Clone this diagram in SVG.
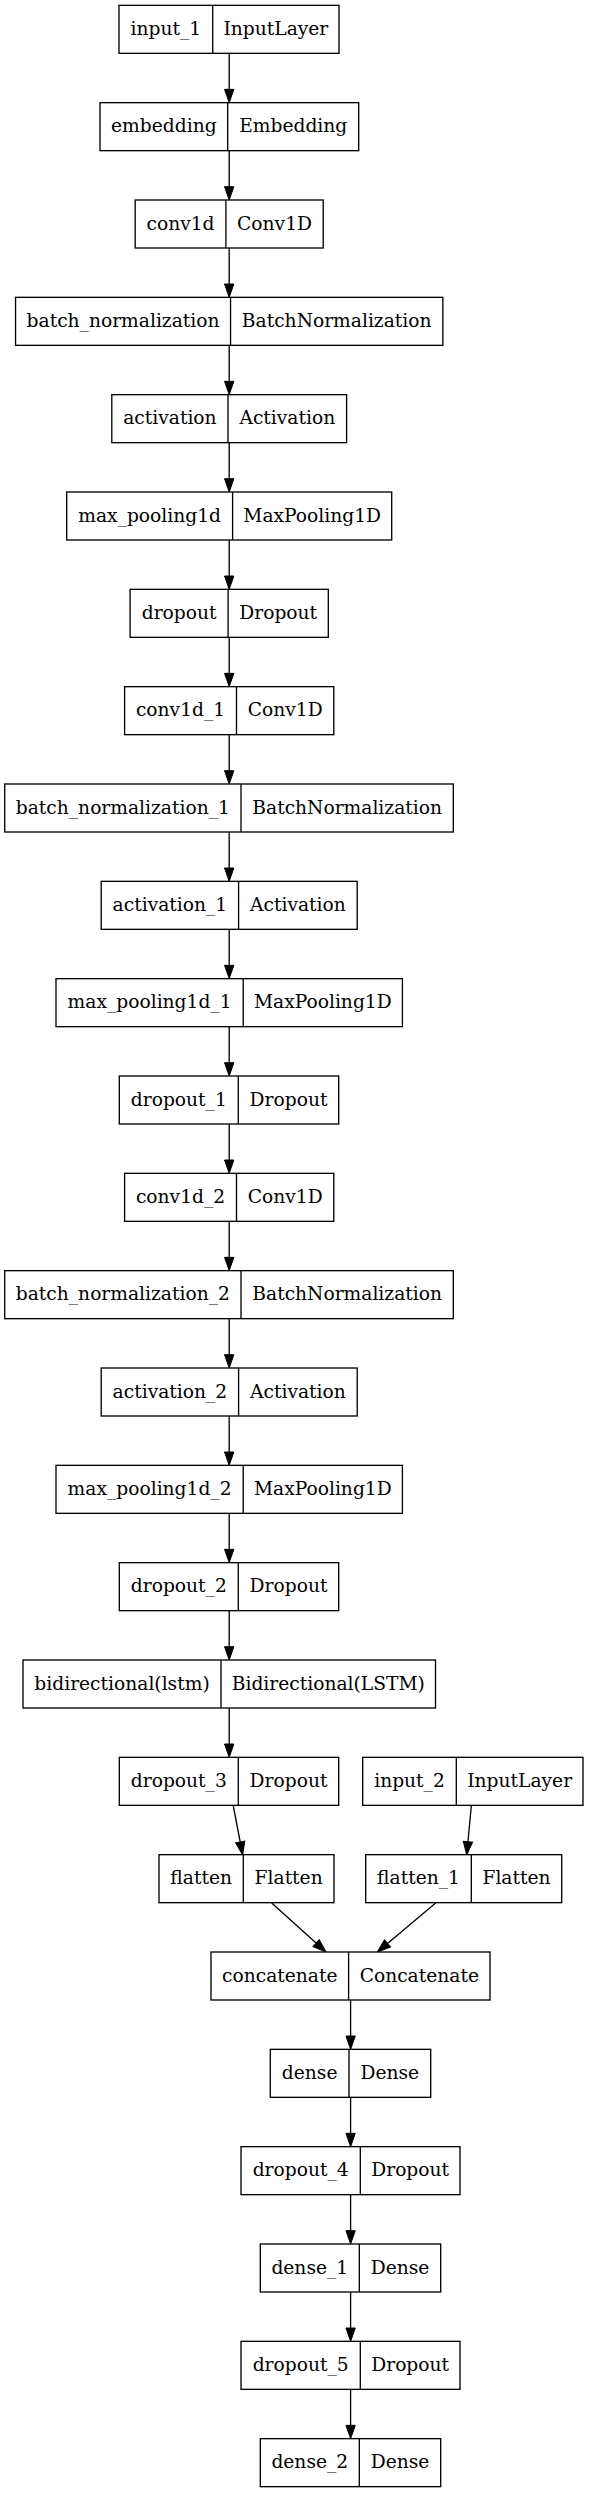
<svg xmlns="http://www.w3.org/2000/svg" width="589" height="2493" viewBox="0 0 589 2493">
<style>
.b{fill:#fff;stroke:#000;stroke-width:1.33}
.d{stroke:#000;stroke-width:1.33}
text{font-family:"DejaVu Serif","Liberation Serif",serif;font-size:18.67px;text-anchor:middle;fill:#000}
.e{fill:none;stroke:#000;stroke-width:1.33;marker-end:url(#ah)}
</style>
<defs>
<marker id="ah" markerUnits="userSpaceOnUse" markerWidth="14" markerHeight="10" refX="0" refY="4.67" orient="auto" overflow="visible">
<path d="M0,0 L13.33,4.67 L0,9.33 Z" fill="#000" stroke="#000" stroke-width="1"/>
</marker>
</defs>
<rect width="589" height="2493" fill="#fff"/>
<g id="edges">
<path class="e" d="M229.2,53.33 V89.33"/>
<path class="e" d="M229.2,150.67 V186.67"/>
<path class="e" d="M229.2,248 V284"/>
<path class="e" d="M229.2,345.33 V381.33"/>
<path class="e" d="M229.2,442.67 V478.67"/>
<path class="e" d="M229.2,540 V576"/>
<path class="e" d="M229.2,637.33 V673.33"/>
<path class="e" d="M229.2,734.67 V770.67"/>
<path class="e" d="M229.2,832 V868"/>
<path class="e" d="M229.2,929.33 V965.33"/>
<path class="e" d="M229.2,1026.67 V1062.67"/>
<path class="e" d="M229.2,1124 V1160"/>
<path class="e" d="M229.2,1221.33 V1257.33"/>
<path class="e" d="M229.2,1318.67 V1354.67"/>
<path class="e" d="M229.2,1416 V1452"/>
<path class="e" d="M229.2,1513.33 V1549.33"/>
<path class="e" d="M229.2,1610.67 V1646.67"/>
<path class="e" d="M229.2,1708 V1744"/>
<path class="e" d="M233.3,1806 L240.2,1841.9"/>
<path class="e" d="M471.3,1806 L467.95,1841.7"/>
<path class="e" d="M271.7,1903 L316.1,1943.1"/>
<path class="e" d="M435.7,1903 L387.5,1943.4"/>
<path class="e" d="M350.6,2000 V2036"/>
<path class="e" d="M350.6,2097.33 V2133.33"/>
<path class="e" d="M350.6,2194.67 V2230.67"/>
<path class="e" d="M350.6,2292 V2328"/>
<path class="e" d="M350.6,2389.33 V2425.33"/>
</g>
<g id="input_1"><rect class="b" x="119" y="5.33" width="220" height="48"/><line class="d" x1="212.7" y1="5.33" x2="212.7" y2="53.33"/><text x="165.85" y="34.93">input_1</text><text x="275.85" y="34.93">InputLayer</text></g>
<g id="embedding"><rect class="b" x="100" y="102.67" width="258.7" height="48"/><line class="d" x1="227.7" y1="102.67" x2="227.7" y2="150.67"/><text x="163.85" y="132.27">embedding</text><text x="293.2" y="132.27">Embedding</text></g>
<g id="conv1d"><rect class="b" x="135.2" y="200" width="188" height="48"/><line class="d" x1="225.9" y1="200" x2="225.9" y2="248"/><text x="180.55" y="229.6">conv1d</text><text x="274.55" y="229.6">Conv1D</text></g>
<g id="batch_normalization"><rect class="b" x="15.55" y="297.33" width="427.3" height="48"/><line class="d" x1="230.55" y1="297.33" x2="230.55" y2="345.33"/><text x="123.05" y="326.93">batch_normalization</text><text x="336.7" y="326.93">BatchNormalization</text></g>
<g id="activation"><rect class="b" x="111.8" y="394.67" width="234.8" height="48"/><line class="d" x1="228" y1="394.67" x2="228" y2="442.67"/><text x="169.9" y="424.27">activation</text><text x="287.3" y="424.27">Activation</text></g>
<g id="max_pooling1d"><rect class="b" x="66.7" y="492" width="325" height="48"/><line class="d" x1="232.6" y1="492" x2="232.6" y2="540"/><text x="149.65" y="521.6">max_pooling1d</text><text x="312.15" y="521.6">MaxPooling1D</text></g>
<g id="dropout"><rect class="b" x="130.1" y="589.33" width="198.2" height="48"/><line class="d" x1="228.1" y1="589.33" x2="228.1" y2="637.33"/><text x="179.1" y="618.93">dropout</text><text x="278.2" y="618.93">Dropout</text></g>
<g id="conv1d_1"><rect class="b" x="124.6" y="686.67" width="209.2" height="48"/><line class="d" x1="236.5" y1="686.67" x2="236.5" y2="734.67"/><text x="180.55" y="716.27">conv1d_1</text><text x="285.15" y="716.27">Conv1D</text></g>
<g id="batch_normalization_1"><rect class="b" x="4.7" y="784" width="448.6" height="48"/><line class="d" x1="241" y1="784" x2="241" y2="832"/><text x="122.85" y="813.6">batch_normalization_1</text><text x="347.15" y="813.6">BatchNormalization</text></g>
<g id="activation_1"><rect class="b" x="101.2" y="881.33" width="256" height="48"/><line class="d" x1="238.6" y1="881.33" x2="238.6" y2="929.33"/><text x="169.9" y="910.93">activation_1</text><text x="297.9" y="910.93">Activation</text></g>
<g id="max_pooling1d_1"><rect class="b" x="56" y="978.67" width="346.4" height="48"/><line class="d" x1="243.2" y1="978.67" x2="243.2" y2="1026.67"/><text x="149.6" y="1008.27">max_pooling1d_1</text><text x="322.8" y="1008.27">MaxPooling1D</text></g>
<g id="dropout_1"><rect class="b" x="119.3" y="1076" width="219.4" height="48"/><line class="d" x1="238.3" y1="1076" x2="238.3" y2="1124"/><text x="178.8" y="1105.6">dropout_1</text><text x="288.5" y="1105.6">Dropout</text></g>
<g id="conv1d_2"><rect class="b" x="124.6" y="1173.33" width="209.2" height="48"/><line class="d" x1="236.5" y1="1173.33" x2="236.5" y2="1221.33"/><text x="180.55" y="1202.93">conv1d_2</text><text x="285.15" y="1202.93">Conv1D</text></g>
<g id="batch_normalization_2"><rect class="b" x="4.7" y="1270.67" width="448.6" height="48"/><line class="d" x1="241" y1="1270.67" x2="241" y2="1318.67"/><text x="122.85" y="1300.27">batch_normalization_2</text><text x="347.15" y="1300.27">BatchNormalization</text></g>
<g id="activation_2"><rect class="b" x="101.2" y="1368" width="256" height="48"/><line class="d" x1="238.6" y1="1368" x2="238.6" y2="1416"/><text x="169.9" y="1397.6">activation_2</text><text x="297.9" y="1397.6">Activation</text></g>
<g id="max_pooling1d_2"><rect class="b" x="56" y="1465.33" width="346.4" height="48"/><line class="d" x1="243.2" y1="1465.33" x2="243.2" y2="1513.33"/><text x="149.6" y="1494.93">max_pooling1d_2</text><text x="322.8" y="1494.93">MaxPooling1D</text></g>
<g id="dropout_2"><rect class="b" x="119.3" y="1562.67" width="219.4" height="48"/><line class="d" x1="238.3" y1="1562.67" x2="238.3" y2="1610.67"/><text x="178.8" y="1592.27">dropout_2</text><text x="288.5" y="1592.27">Dropout</text></g>
<g id="bidirectional"><rect class="b" x="23" y="1660" width="412.5" height="48"/><line class="d" x1="221" y1="1660" x2="221" y2="1708"/><text x="122" y="1689.6">bidirectional(lstm)</text><text x="328.25" y="1689.6">Bidirectional(LSTM)</text></g>
<g id="dropout_3"><rect class="b" x="119.3" y="1757.33" width="219.4" height="48"/><line class="d" x1="238.3" y1="1757.33" x2="238.3" y2="1805.33"/><text x="178.8" y="1786.93">dropout_3</text><text x="288.5" y="1786.93">Dropout</text></g>
<g id="input_2"><rect class="b" x="362.7" y="1757.33" width="220.3" height="48"/><line class="d" x1="456.3" y1="1757.33" x2="456.3" y2="1805.33"/><text x="409.5" y="1786.93">input_2</text><text x="519.65" y="1786.93">InputLayer</text></g>
<g id="flatten"><rect class="b" x="159" y="1854.67" width="175" height="48"/><line class="d" x1="243.3" y1="1854.67" x2="243.3" y2="1902.67"/><text x="201.15" y="1884.27">flatten</text><text x="288.65" y="1884.27">Flatten</text></g>
<g id="flatten_1"><rect class="b" x="365.7" y="1854.67" width="196" height="48"/><line class="d" x1="471.3" y1="1854.67" x2="471.3" y2="1902.67"/><text x="418.5" y="1884.27">flatten_1</text><text x="516.5" y="1884.27">Flatten</text></g>
<g id="concatenate"><rect class="b" x="211" y="1952" width="279" height="48"/><line class="d" x1="348.6" y1="1952" x2="348.6" y2="2000"/><text x="279.8" y="1981.6">concatenate</text><text x="419.3" y="1981.6">Concatenate</text></g>
<g id="dense"><rect class="b" x="270.3" y="2049.33" width="160.4" height="48"/><line class="d" x1="349" y1="2049.33" x2="349" y2="2097.33"/><text x="309.65" y="2078.93">dense</text><text x="389.85" y="2078.93">Dense</text></g>
<g id="dropout_4"><rect class="b" x="241" y="2146.67" width="219" height="48"/><line class="d" x1="360.3" y1="2146.67" x2="360.3" y2="2194.67"/><text x="300.65" y="2176.27">dropout_4</text><text x="410.15" y="2176.27">Dropout</text></g>
<g id="dense_1"><rect class="b" x="260.3" y="2244" width="180.4" height="48"/><line class="d" x1="359.3" y1="2244" x2="359.3" y2="2292"/><text x="309.8" y="2273.6">dense_1</text><text x="400" y="2273.6">Dense</text></g>
<g id="dropout_5"><rect class="b" x="241" y="2341.33" width="219" height="48"/><line class="d" x1="360.3" y1="2341.33" x2="360.3" y2="2389.33"/><text x="300.65" y="2370.93">dropout_5</text><text x="410.15" y="2370.93">Dropout</text></g>
<g id="dense_2"><rect class="b" x="260.3" y="2438.67" width="180.4" height="48"/><line class="d" x1="359.3" y1="2438.67" x2="359.3" y2="2486.67"/><text x="309.8" y="2468.27">dense_2</text><text x="400" y="2468.27">Dense</text></g>
</svg>
